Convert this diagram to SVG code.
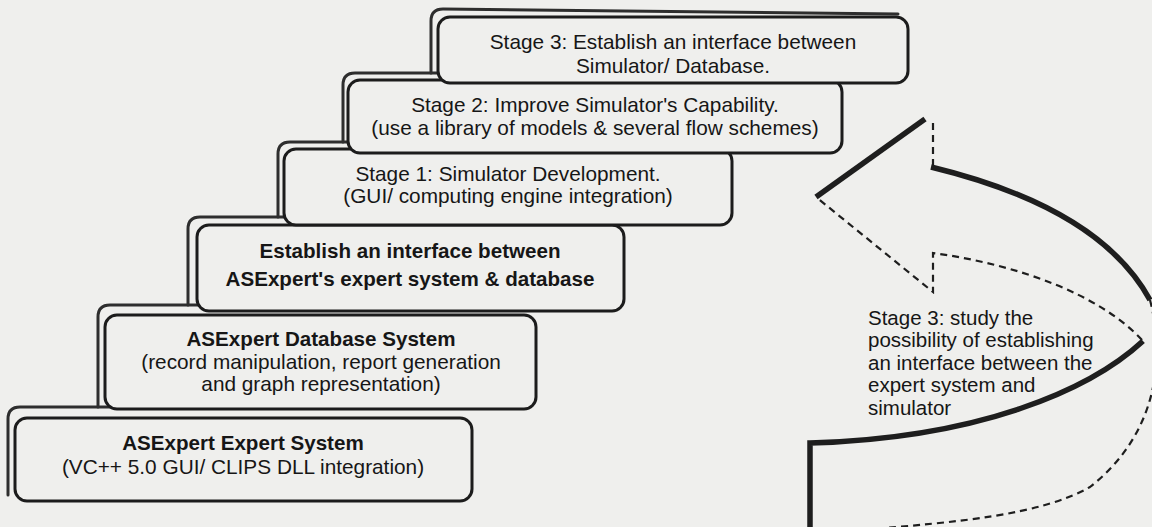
<svg xmlns="http://www.w3.org/2000/svg" width="1152" height="527" viewBox="0 0 1152 527">
<style>
.bg{fill:#efefed}
.box{fill:#efefed;stroke:#1c1c1c;stroke-width:3}
.sh{fill:none;stroke:#2e2e2e;stroke-width:3;stroke-linecap:round;stroke-linejoin:round}
.t{font-family:"Liberation Sans",Arial,sans-serif;font-size:20.8px;fill:#161616;text-anchor:middle}
.b{font-weight:bold;font-size:20.6px}
.l{text-anchor:start;font-size:20.5px}
.thick{fill:none;stroke:#1e1e1e;stroke-width:5.5;stroke-linecap:butt;stroke-linejoin:miter}
.dash{fill:none;stroke:#1e1e1e;stroke-width:2.2;stroke-dasharray:7 5}
</style>
<rect class="bg" x="0" y="0" width="1152" height="527"/>

<g id="expert-system">
<path class="sh" d="M8,495 V419 Q8,407 20,407 H112"/>
<rect class="box" x="15" y="418" width="457" height="83" rx="12"/>
<text class="t b" x="243" y="450">ASExpert Expert System</text>
<text class="t" x="243" y="474">(VC++ 5.0 GUI/ CLIPS DLL integration)</text>
</g>

<g id="database-system">
<path class="sh" d="M98,407 V317 Q98,305 110,305 H205"/>
<rect class="box" x="105" y="315" width="431" height="94" rx="12"/>
<text class="t b" x="321" y="346">ASExpert Database System</text>
<text class="t" x="321" y="369">(record manipulation, report generation</text>
<text class="t" x="321" y="391">and graph representation)</text>
</g>

<g id="interface-es-db">
<path class="sh" d="M188,305 V229 Q188,217 200,217 H292"/>
<rect class="box" x="197" y="225" width="427" height="86" rx="12"/>
<text class="t b" x="410" y="258">Establish an interface between</text>
<text class="t b" x="410" y="286">ASExpert's expert system &amp; database</text>
</g>

<g id="stage1">
<path class="sh" d="M278,217 V154 Q278,142 290,142 H358"/>
<rect class="box" x="284" y="149" width="448" height="76" rx="12"/>
<text class="t" x="508" y="181">Stage 1: Simulator Development.</text>
<text class="t" x="508" y="203">(GUI/ computing engine integration)</text>
</g>

<g id="stage2">
<path class="sh" d="M343,142 V85 Q343,73 355,73 H445"/>
<rect class="box" x="348" y="80" width="494" height="73" rx="12"/>
<text class="t" x="595" y="112">Stage 2: Improve Simulator's Capability.</text>
<text class="t" x="595" y="135">(use a library of models &amp; several flow schemes)</text>
</g>

<g id="stage3">
<path class="sh" d="M431,73 V21 Q431,9 443,9 L898,14"/>
<rect class="box" x="438" y="17" width="470" height="66" rx="12"/>
<text class="t" x="673" y="49">Stage 3: Establish an interface between</text>
<text class="t" x="673" y="73">Simulator/ Database.</text>
</g>

<g id="connectors">
<g id="uturn-arrow">
<path class="thick" d="M816,197 L925,119"/>
<path class="dash" d="M933,123 V167"/>
<path class="thick" d="M931,167 Q1100,208 1150,300"/>
<path class="dash" d="M1150,300 C1168,370 1150,440 1090,487 C1040,515 960,522 860,530"/>
<path class="thick" d="M1143,341 C1090,390 980,438 810,443 V527"/>
<path class="dash" d="M1142,340 C1100,295 1020,265 933,253 V292 L816,197"/>
</g>
</g>

<g id="stage3-study">
<text class="t l" x="868" y="325">Stage 3: study the</text>
<text class="t l" x="868" y="347">possibility of establishing</text>
<text class="t l" x="868" y="370">an interface between the</text>
<text class="t l" x="868" y="392">expert system and</text>
<text class="t l" x="868" y="415">simulator</text>
</g>
</svg>
